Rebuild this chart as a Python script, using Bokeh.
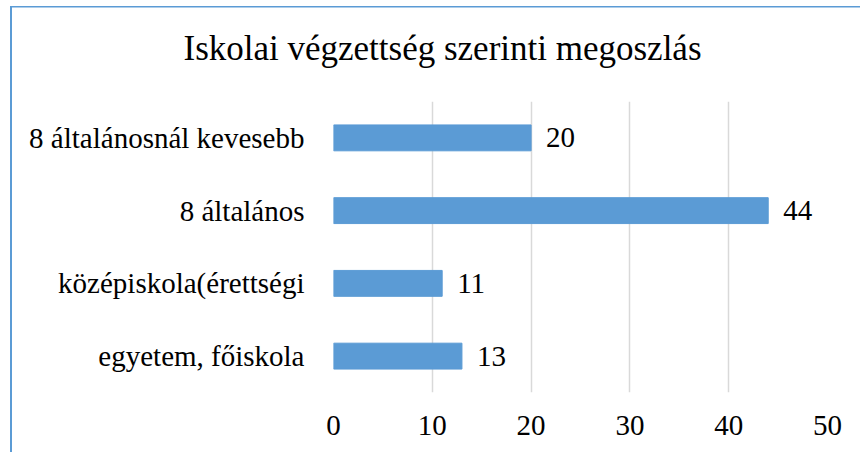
from bokeh.plotting import figure
from bokeh.models import Range1d, FactorRange, FixedTicker, Title, ColumnDataSource
from bokeh.core.properties import value
from bokeh.embed import file_html
from bokeh.resources import INLINE

# Data (bottom to top)
categories = ["egyetem, főiskola", "középiskola(érettségi", "8 általános", "8 általánosnál kevesebb"]
counts = [13, 11, 44, 20]
x_ticks = [0, 10, 20, 30, 40, 50]
title_text = "Iskolai végzettség szerinti megoszlás"

FONT = "Liberation Serif"
BAR = "#5B9BD5"

source = ColumnDataSource(dict(cat=categories, val=counts, lab=[str(v) for v in counts]))

p = figure(width=860, height=460, output_backend="svg", toolbar_location=None,
           y_range=FactorRange(factors=categories), x_range=Range1d(0, 50),
           min_border_left=333, min_border_right=33, min_border_top=108, min_border_bottom=60)
p.outline_line_color = None
p.background_fill_color = "white"
p.border_fill_alpha = 0
# chart-area border (top and left edges visible in the reference)
p.styles = {
    "margin-top": "-8px",
    "background-color": "white",
    "background-image": "linear-gradient(#5B9BD5, #5B9BD5), linear-gradient(#5B9BD5, #5B9BD5)",
    "background-size": "100% 1.5px, 2px 100%",
    "background-position": "10px 14px, 10px 14px",
    "background-repeat": "no-repeat",
}

p.hbar(y="cat", right="val", left=0, height=0.356, source=source, color=BAR)
p.text(x="val", y="cat", text="lab", source=source, x_offset=15, text_baseline="middle",
       text_align="left", text_font=value(FONT), text_font_size="29px", text_color="#000000")

t = Title(text=title_text, align="left", offset=-150, standoff=68,
          text_font=FONT, text_font_size="35px", text_font_style="normal", text_color="#000000")
p.add_layout(t, "above")

p.xaxis.ticker = FixedTicker(ticks=x_ticks)
for ax in (p.xaxis, p.yaxis):
    ax.axis_line_color = None
    ax.major_tick_line_color = None
    ax.minor_tick_line_color = None
    ax.major_label_text_font = FONT
    ax.major_label_text_font_size = "29px"
    ax.major_label_text_color = "#000000"
p.xaxis.major_label_standoff = 17
p.yaxis.major_label_standoff = 23

p.xgrid.grid_line_color = "#D9D9D9"
p.xgrid.grid_line_width = 1.5
p.ygrid.grid_line_color = None

open("out.html", "w").write(file_html(p, INLINE))
